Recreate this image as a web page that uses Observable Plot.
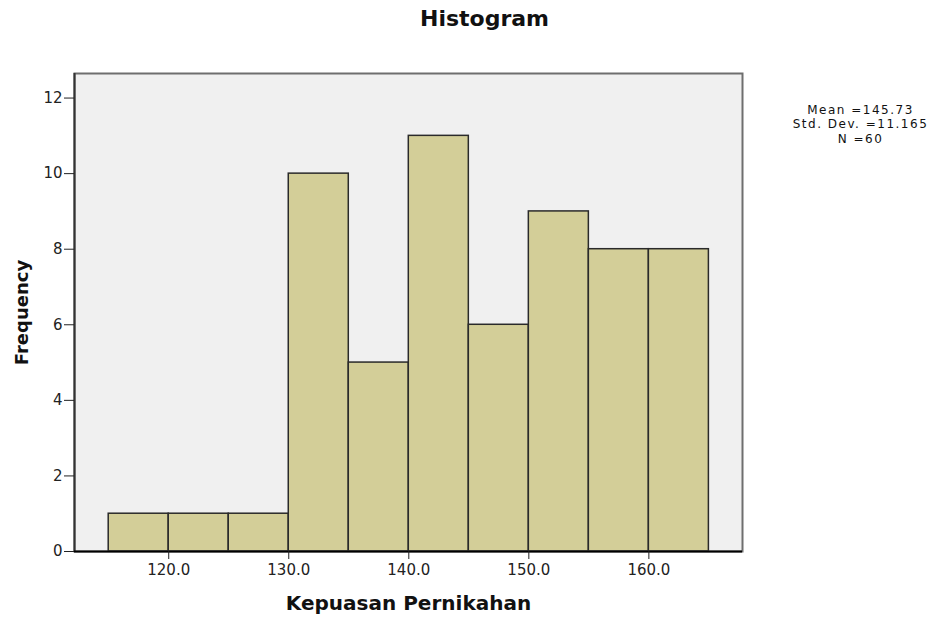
<!DOCTYPE html>
<html>
<head>
<meta charset="utf-8">
<script src="https://cdn.jsdelivr.net/npm/d3@7"></script>
<script src="https://cdn.jsdelivr.net/npm/@observablehq/plot@0.6"></script>
<style>
  html, body { margin: 0; padding: 0; background: #ffffff; }
</style>
</head>
<body>
<div id="chart"></div>
<script>
// Data
const binStart = [115, 120, 125, 130, 135, 140, 145, 150, 155, 160];
const binEnd   = [120, 125, 130, 135, 140, 145, 150, 155, 160, 165];
const counts   = [1, 1, 1, 10, 5, 11, 6, 9, 8, 8];
const xTicks   = [120, 130, 140, 150, 160];
const yTicks   = [0, 2, 4, 6, 8, 10, 12];
const titleText = "Histogram";
const xLabel = "Kepuasan Pernikahan";
const yLabel = "Frequency";
const statsLines = ["Mean =145.73", "Std. Dev. =11.165", "N =60"];

const bins = binStart.map((s, i) => ({x1: s, x2: binEnd[i], count: counts[i]}));
const xDomain = [112.15, 167.8];
const yDomain = [0, 12.65];

const chart = Plot.plot({
  width: 939,
  height: 618,
  marginLeft: 74,
  marginRight: 197,
  marginTop: 73,
  marginBottom: 67,
  style: {fontFamily: "'DejaVu Sans', sans-serif", fontSize: "15px", background: "#ffffff", color: "#222"},
  x: {domain: xDomain},
  y: {domain: yDomain},
  marks: [
    Plot.frame({fill: "#f0f0f0", stroke: "none"}),
    Plot.rectY(bins, {x1: "x1", x2: "x2", y: "count", fill: "#d3ce98", stroke: "#2a2a2a", strokeWidth: 1.5}),
    Plot.frame({stroke: "#6e6e6e", strokeWidth: 2}),
    Plot.ruleX([xDomain[0]], {stroke: "#333", strokeWidth: 2}),
    Plot.ruleY([0], {stroke: "#000", strokeWidth: 2}),
    Plot.axisX({ticks: xTicks, tickFormat: d => d.toFixed(1), tickSize: 8, tickPadding: 5, label: null, fontSize: 15, stroke: "#222"}),
    Plot.axisY({ticks: yTicks, tickFormat: d => String(d), tickSize: 10, tickPadding: 2, label: null, fontSize: 15, stroke: "#222"}),
    Plot.text([titleText], {text: d => d, frameAnchor: "top", dx: 76, dy: -55, lineAnchor: "middle", fontWeight: "bold", fontSize: 22, fill: "#111"}),
    Plot.text([xLabel], {text: d => d, frameAnchor: "bottom", dy: 52, lineAnchor: "middle", fontWeight: "bold", fontSize: 20, fill: "#111"}),
    Plot.text([yLabel], {text: d => d, frameAnchor: "left", dx: -52, textAnchor: "middle", lineAnchor: "middle", rotate: -90, fontWeight: "bold", fontSize: 18, fill: "#111"}),
    Plot.text([statsLines.join("\n")], {text: d => d, frameAnchor: "top-right", dx: 118, dy: 50, textAnchor: "middle", lineAnchor: "middle", lineHeight: 1.2, fontSize: 12, fill: "#111"})
  ]
});
d3.select(chart).selectAll("text")
  .filter(function() { return this.textContent.includes("Mean"); })
  .style("letter-spacing", "1.5px");
document.getElementById("chart").appendChild(chart);
</script>
</body>
</html>
